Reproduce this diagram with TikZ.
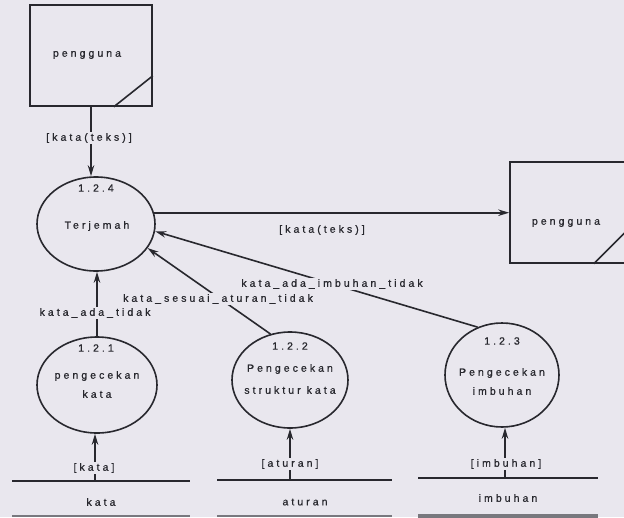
\documentclass[tikz,border=0pt]{standalone}
\usepackage{fontspec}
\setmainfont{Liberation Sans}[LetterSpace=29,FakeBold=0.8]
\usetikzlibrary{arrows.meta,calc,shapes.geometric}
\definecolor{paper}{RGB}{233,231,238}
\definecolor{ink}{RGB}{40,40,46}
\definecolor{shade}{RGB}{120,120,126}

\begin{document}
\begin{tikzpicture}[x=1pt,y=-1pt,
  font=\fontsize{10.5}{12}\selectfont,
  every node/.style={text=ink},
  flow/.style={draw=ink,line width=1.6pt,-{Stealth[length=11pt,width=6.5pt]}},
  edge line/.style={draw=ink,line width=1.6pt},
  proc/.style={draw=ink,line width=1.6pt,ellipse,inner sep=0pt},
  entity/.style={draw=ink,line width=1.6pt,rectangle,inner sep=0pt},
  flowlabel/.style={fill=paper,inner sep=1.5pt},
  storebase/.style={draw=shade,line width=2pt},
]
\fill[paper] (0,0) rectangle (624,517);
\useasboundingbox (0,0) rectangle (624,517);

% external entities
\node[entity,minimum width=122pt,minimum height=101pt] (ent1) at (91,55.5) {};
\node (ent1txt) at (87,55) {pengguna};
\draw[edge line] ($(ent1.south east)+(-39,0)$) -- ($(ent1.south east)+(0,-31)$);

\node[entity,minimum width=135pt,minimum height=101pt] (ent2) at (577.5,212.5) {};
\node (ent2txt) at (566,223) {pengguna};
\draw[edge line] ($(ent2.south east)+(-52,0)$) -- ($(ent2.south east)+(0,-52)$);

% processes
\node[proc,minimum width=118pt,minimum height=94pt] (p124) at (96,224) {};
\node (p124n) at (96,188) {1.2.4};
\node (p124t) at (97,226) {Terjemah};

\node[proc,minimum width=120pt,minimum height=96pt] (p121) at (97,385) {};
\node (p121n) at (96,348) {1.2.1};
\node (p121t) at (97,376) {pengecekan};
\node (p121u) at (97,394) {kata};

\node[proc,minimum width=116pt,minimum height=96pt] (p122) at (290,380) {};
\node (p122n) at (290,346) {1.2.2};
\node (p122t) at (290,369) {Pengecekan};
\node (p122u) at (290,390) {struktur kata};

\node[proc,minimum width=114pt,minimum height=104pt] (p123) at (502,375) {};
\node (p123n) at (502,341) {1.2.3};
\node (p123t) at (502,373) {Pengecekan};
\node (p123u) at (502,391) {imbuhan};

% data stores
\coordinate (skata) at (95,481);
\coordinate (saturan) at (290,480);
\coordinate (simbuhan) at (505,478);
\draw[edge line] (12,481) -- (190,481);
\draw[edge line] (217,480) -- (392,480);
\draw[edge line] (418,478) -- (598,478);
\node (dkata) at (101,502) {kata};
\node (daturan) at (305,502) {aturan};
\node (dimbuhan) at (508,498) {imbuhan};
\draw[storebase] (12,516) -- (190,516);
\draw[storebase] (217,516) -- (392,516);
\draw[storebase,line width=4pt] (418,516) -- (598,516);

% data flows
\draw[flow] (ent1.south) -- (ent1.south |- p124.north);
\node[flowlabel] (l1) at (89,138) {[kata(teks)]};

\draw[flow] (p124.11) -- (p124.11 -| ent2.west);
\node (l2) at (322,230) {[kata(teks)]};

\draw[flow] (p121.north) -- (p121.north |- p124.south);
\node[flowlabel] (l3) at (95,313) {kata\_ada\_tidak};

\draw[flow] (p122.113) -- (p124.-25);
\node[flowlabel] (l4) at (218,299) {kata\_sesuai\_aturan\_tidak};

\draw[flow] (p123.117) -- (p124.-7);
\node[flowlabel] (l5) at (332,284) {kata\_ada\_imbuhan\_tidak};

\draw[flow] (skata) -- (p121.south -| skata);
\node[flowlabel] (l6) at (94,468) {[kata]};

\draw[flow] (saturan) -- (p122.south -| saturan);
\node[flowlabel] (l7) at (290,464) {[aturan]};

\draw[flow] (simbuhan) -- (p123.south -| simbuhan);
\node[flowlabel] (l8) at (506,464) {[imbuhan]};
\end{tikzpicture}
\end{document}
